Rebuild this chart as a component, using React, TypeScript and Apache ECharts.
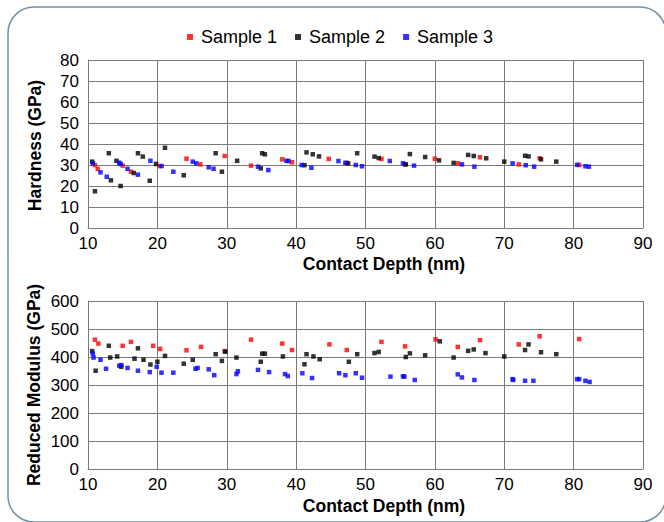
import React, { useEffect, useRef } from "react";
import * as echarts from "echarts";

// ---------- Data ----------
const seriesNames = ["Sample 1", "Sample 2", "Sample 3"];
const seriesColors = ["#ff0000", "#000000", "#0000ff"];
const xTicks = [10, 20, 30, 40, 50, 60, 70, 80, 90];

// Hardness chart (top)
const hardDepth1 = [11.0, 11.4, 15.0, 16.2, 20.3, 24.2, 26.2, 29.7, 33.5, 38.0, 39.4, 44.7, 47.3, 52.3, 55.7, 60.0, 63.3, 66.5, 72.1, 75.1, 80.8];
const hardness1 = [30.0, 28.1, 29.7, 26.8, 29.5, 33.0, 30.3, 34.3, 29.7, 32.7, 31.3, 32.9, 31.0, 32.9, 30.3, 33.0, 30.8, 33.7, 30.3, 33.2, 30.0];

const hardDepth2 = [10.6, 11.0, 13.0, 13.3, 14.1, 14.7, 16.6, 17.2, 17.9, 18.9, 19.8, 21.1, 23.8, 28.4, 29.3, 31.5, 34.9, 35.1, 35.5, 41.2, 41.5, 42.4, 43.3, 47.5, 48.8, 51.3, 51.9, 55.8, 56.4, 58.6, 60.6, 62.7, 64.8, 65.6, 67.4, 70.0, 73.0, 73.5, 75.3, 77.5];
const hardness2 = [31.6, 17.5, 35.6, 22.7, 32.0, 20.0, 26.2, 35.6, 34.0, 22.5, 30.5, 38.2, 25.1, 35.6, 26.8, 32.0, 28.4, 35.6, 35.1, 29.9, 36.0, 35.1, 34.1, 30.8, 35.6, 34.0, 33.3, 30.3, 35.2, 33.8, 32.2, 31.0, 34.8, 34.3, 33.2, 31.6, 34.4, 34.1, 32.7, 31.6];

const hardDepth3 = [10.7, 11.8, 12.7, 14.5, 14.7, 15.7, 17.2, 19.0, 20.6, 22.3, 25.1, 25.6, 27.4, 28.1, 34.5, 36.0, 38.6, 38.9, 40.8, 42.2, 46.1, 47.1, 48.6, 49.5, 53.5, 55.4, 57.0, 63.9, 65.7, 71.2, 73.1, 74.3, 80.5, 81.7, 82.2];
const hardness3 = [30.8, 26.5, 24.4, 31.1, 30.5, 28.2, 25.4, 32.0, 29.5, 26.8, 31.6, 30.8, 28.9, 28.2, 29.2, 27.6, 32.0, 31.9, 30.0, 28.7, 31.9, 31.0, 30.0, 29.4, 31.9, 30.8, 29.7, 30.3, 29.2, 30.8, 29.9, 29.2, 30.1, 29.4, 29.2];

// Reduced modulus chart (bottom)
const modDepth1 = [11.0, 11.5, 15.0, 16.2, 19.4, 20.4, 24.2, 26.3, 29.7, 33.5, 38.0, 39.4, 44.8, 47.3, 52.3, 55.7, 60.1, 63.3, 66.5, 72.1, 75.1, 80.8];
const modulus1 = [462, 448, 440, 454, 440, 429, 424, 436, 421, 462, 448, 425, 445, 425, 454, 438, 463, 436, 460, 445, 474, 464];

const modDepth2 = [10.6, 11.1, 13.0, 13.2, 14.2, 14.8, 16.7, 17.2, 18.0, 19.0, 20.0, 21.1, 23.8, 25.1, 28.4, 29.3, 29.8, 31.4, 34.9, 35.1, 35.5, 38.1, 41.2, 41.5, 42.5, 43.4, 47.6, 48.8, 51.3, 51.9, 55.8, 56.4, 58.6, 60.7, 62.7, 64.8, 65.6, 67.3, 70.0, 73.0, 73.5, 75.3, 77.5];
const modulus2 = [421, 351, 440, 398, 402, 365, 394, 431, 390, 373, 383, 404, 376, 390, 410, 386, 419, 398, 383, 412, 412, 402, 374, 410, 402, 392, 383, 410, 414, 418, 400, 413, 406, 456, 398, 422, 427, 414, 402, 425, 445, 417, 410];

const modDepth3 = [10.7, 10.8, 11.8, 12.6, 14.5, 14.8, 15.7, 17.2, 18.9, 19.9, 20.6, 22.3, 25.5, 25.8, 27.4, 28.2, 31.4, 31.6, 34.5, 36.1, 38.4, 38.8, 40.9, 42.3, 46.2, 47.1, 48.6, 49.5, 53.6, 55.4, 55.6, 57.1, 63.3, 63.9, 65.7, 71.2, 71.3, 73.0, 74.2, 80.5, 80.8, 81.7, 82.3];
const modulus3 = [412, 398, 390, 358, 369, 371, 361, 351, 346, 365, 344, 344, 358, 361, 356, 335, 339, 349, 354, 346, 339, 332, 342, 325, 342, 335, 342, 326, 330, 331, 330, 318, 338, 327, 318, 321, 318, 315, 315, 321, 321, 315, 311];

const xTitle = "Contact Depth (nm)";
const yTitleTop = "Hardness (GPa)";
const yTitleBottom = "Reduced Modulus (GPa)";

// ---------- Chart ----------
const FONT = '"Liberation Sans", Arial, sans-serif';
const GRID_COLOR = "#7a7a7a";

const zip = (xs: number[], ys: number[]) => xs.map((x, i) => [x, ys[i]]);

function xAxis(gridIndex: number) {
  return {
    type: "value",
    gridIndex,
    min: xTicks[0],
    max: xTicks[xTicks.length - 1],
    interval: 10,
    axisLine: { show: true, lineStyle: { color: GRID_COLOR, width: 1 } },
    axisTick: { show: false },
    splitLine: { show: true, lineStyle: { color: GRID_COLOR, width: 1 } },
    axisLabel: { color: "#000", fontSize: 17, fontFamily: FONT, margin: 7 },
  };
}

function yAxis(gridIndex: number, max: number, interval: number) {
  return {
    type: "value",
    gridIndex,
    min: 0,
    max,
    interval,
    axisLine: { show: true, lineStyle: { color: GRID_COLOR, width: 1 } },
    axisTick: { show: false },
    splitLine: { show: true, lineStyle: { color: GRID_COLOR, width: 1 } },
    axisLabel: { color: "#000", fontSize: 17, fontFamily: FONT, margin: 9 },
  };
}

function scatter(name: string, color: string, data: number[][], idx: number) {
  return {
    type: "scatter",
    name,
    xAxisIndex: idx,
    yAxisIndex: idx,
    symbol: "rect",
    symbolSize: 4.5,
    itemStyle: { color },
    data,
  };
}

function titleText(text: string, x: number, y: number, vertical: boolean) {
  return {
    type: "text",
    x,
    y,
    rotation: vertical ? Math.PI / 2 : 0,
    style: {
      text,
      fill: "#000",
      fontSize: 17.5,
      fontWeight: "bold",
      fontFamily: FONT,
      align: "center",
      verticalAlign: "middle",
    },
  };
}

export default function App() {
  const ref = useRef<HTMLDivElement>(null);
  useEffect(() => {
    if (!ref.current) return;
    const chart = echarts.init(ref.current, undefined, { renderer: "svg" });
    const hard = [zip(hardDepth1, hardness1), zip(hardDepth2, hardness2), zip(hardDepth3, hardness3)];
    const mod = [zip(modDepth1, modulus1), zip(modDepth2, modulus2), zip(modDepth3, modulus3)];
    chart.setOption({
      animation: false,
      backgroundColor: "#ffffff",
      legend: {
        data: seriesNames,
        left: 182,
        top: 23,
        icon: "rect",
        itemWidth: 6,
        itemHeight: 6,
        itemGap: 18,
        textStyle: { fontSize: 18, fontFamily: FONT, color: "#000", padding: [0, 0, 0, 3] },
      },
      grid: [
        { left: 88, top: 60, width: 555, height: 168 },
        { left: 88, top: 301, width: 555, height: 168 },
      ],
      xAxis: [xAxis(0), xAxis(1)],
      yAxis: [yAxis(0, 80, 10), yAxis(1, 600, 100)],
      series: [
        ...seriesNames.map((n, i) => scatter(n, seriesColors[i], hard[i], 0)),
        ...seriesNames.map((n, i) => scatter(n, seriesColors[i], mod[i], 1)),
      ],
      graphic: [
        {
          type: "rect",
          shape: { x: 8, y: 7, width: 658, height: 515, r: 26 },
          style: { fill: "none", stroke: "#7590a5", lineWidth: 1.5 },
          silent: true,
        },
        titleText(yTitleTop, 34.5, 145.5, true),
        titleText(xTitle, 384, 263.5, false),
        titleText(yTitleBottom, 33.5, 385, true),
        titleText(xTitle, 384, 506, false),
      ],
    });
    return () => chart.dispose();
  }, []);
  return (
    <div
      ref={ref}
      style={{ position: "fixed", left: 0, top: 0, width: 664, height: 522, background: "#fff" }}
    />
  );
}
